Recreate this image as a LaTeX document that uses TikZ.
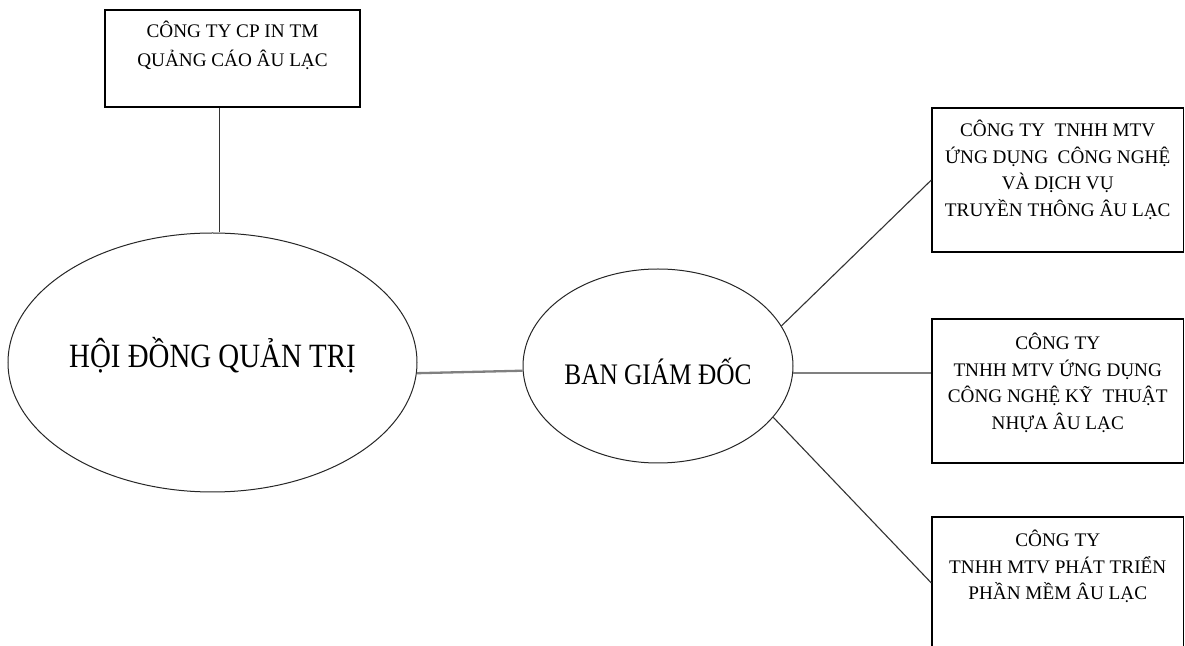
\documentclass[tikz,border=0pt]{standalone}
\usepackage{fontspec}
\setmainfont{Liberation Serif}
\newfontfamily\narrowserif{Liberation Serif}[FakeStretch=0.85]
\usetikzlibrary{shapes.geometric,positioning}

\begin{document}
\begin{tikzpicture}[x=0.5pt,y=-0.5pt,
  box/.style={draw=black,line width=0.65pt,inner sep=0pt,minimum width=125.75pt},
  boxtext/.style={align=center,inner sep=0pt,font=\fontsize{9.6}{13.3}\selectfont},
  oval/.style={ellipse,draw=black!85,line width=0.5pt,inner sep=0pt},
  link/.style={draw=black!80,line width=0.55pt},
  mainlink/.style={draw=black!50,line width=1.15pt}]
\path[use as bounding box,fill=white] (0,0) rectangle (1185,646);
\draw (232.5,58.5) node[box,minimum width=127.5pt,minimum height=48.5pt](parent) {};
\node[boxtext,font=\fontsize{9.6}{14.7}\selectfont,below=5.5pt of parent.north](parenttext) {CÔNG TY CP IN TM\\QUẢNG CÁO ÂU LẠC};
\draw (212.5,362.5) node[oval,minimum width=204.5pt,minimum height=129.5pt,font=\narrowserif\fontsize{17}{20}\selectfont,text height=8pt,text depth=2.5pt](hdqt) {HỘI ĐỒNG QUẢN TRỊ};
\draw (658,366) node[oval,minimum width=135pt,minimum height=97pt,font=\narrowserif\fontsize{14.9}{18}\selectfont,text height=19pt,text depth=0pt](bgd) {BAN GIÁM ĐỐC};
\draw (1057.75,180) node[box,minimum height=72pt](media) {};
\node[boxtext,below=6.2pt of media.north](mediatext) {CÔNG TY\ \ TNHH MTV\\ỨNG DỤNG\ \ CÔNG NGHỆ\\VÀ DỊCH VỤ\\TRUYỀN THÔNG ÂU LẠC};
\draw (1057.75,391) node[box,minimum height=72pt](plastic) {};
\node[boxtext,below=7.2pt of plastic.north](plastictext) {CÔNG TY\\TNHH MTV ỨNG DỤNG\\CÔNG NGHỆ KỸ\ \ THUẬT\\NHỰA ÂU LẠC};
\draw (1057.75,583) node[box,minimum height=66pt](software) {};
\node[boxtext,below=6.7pt of software.north](softwaretext) {CÔNG TY\\TNHH MTV PHÁT TRIỂN\\PHẦN MỀM ÂU LẠC};
\coordinate (drop) at ([xshift=-6.5pt]parent.south);
\draw[link] (drop) -- (drop |- hdqt.north);
\draw[mainlink] (hdqt.357) -- (bgd.182.5);
\draw[mainlink] (bgd.357) -- (bgd.357 -| plastic.west);
\draw[link] (bgd.18) -- (media.west);
\draw[link] (bgd.336) -- (software.west);
\end{tikzpicture}
\end{document}
